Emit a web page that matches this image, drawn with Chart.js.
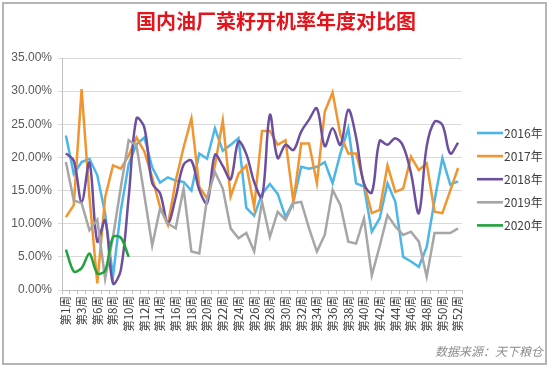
<!DOCTYPE html>
<html><head><meta charset="utf-8">
<script src="https://cdn.jsdelivr.net/npm/chart.js@4.4.1/dist/chart.umd.min.js"></script>
<style>
html,body{margin:0;padding:0;background:#fff;}
#wrap{position:relative;width:550px;height:368px;overflow:hidden;}
#frame{position:absolute;left:2px;top:2px;width:541px;height:359px;border:2px solid #b4b4b4;pointer-events:none;}
canvas{position:absolute;left:0;top:0;}
</style></head><body>
<div id="wrap"><canvas id="c" width="550" height="368"></canvas><div id="frame"></div></div>
<script>
const TITLE = '国内油厂菜籽开机率年度对比图';
const SOURCE = '数据来源：天下粮仓';
const WEEKS = ['第1周','第2周','第3周','第4周','第6周','第7周','第8周','第9周','第10周','第11周','第12周','第13周','第14周','第15周','第16周','第17周','第18周','第19周','第20周','第21周','第22周','第23周','第24周','第25周','第26周','第27周','第28周','第29周','第30周','第31周','第32周','第33周','第34周','第35周','第36周','第37周','第38周','第39周','第40周','第41周','第42周','第43周','第44周','第45周','第46周','第47周','第48周','第49周','第50周','第51周','第52周'];
const SERIES_NAMES = ['2016年','2017年','2018年','2019年','2020年'];
const Y2016 = [23.3,17.5,19.3,19.8,17.3,11.5,2.0,12.0,19.0,22.0,23.0,18.5,16.2,17.0,16.5,16.3,15.0,20.6,19.8,24.4,21.0,21.9,22.9,12.4,11.2,14.5,16.0,14.5,11.0,13.3,18.6,18.3,18.6,19.3,16.1,20.6,24.4,16.1,15.6,8.8,10.8,16.1,13.3,5.0,4.3,3.5,6.5,13.5,19.9,15.9,16.4];
const Y2017 = [11.0,12.8,30.3,14.0,1.0,14.0,18.8,18.3,20.3,23.0,20.9,17.0,12.5,9.8,16.5,21.5,25.9,15.6,13.8,18.8,25.6,14.1,17.5,18.8,12.5,24.0,24.0,21.9,22.6,13.3,22.1,22.1,16.1,26.9,29.8,23.4,20.6,20.6,16.1,11.6,12.1,18.8,14.8,15.3,20.1,18.1,19.1,11.8,11.6,15.0,18.4];
const Y2018 = [20.6,19.5,13.3,19.2,7.3,10.5,1.0,3.0,14.0,25.9,24.5,16.1,14.6,10.1,14.0,18.9,19.5,15.1,13.1,20.4,18.7,16.7,22.4,20.5,16.3,14.0,26.4,19.9,21.9,21.1,23.9,25.7,27.4,21.7,24.4,21.9,27.2,23.0,16.0,14.7,22.5,21.9,22.9,21.7,17.6,11.6,21.7,25.4,24.9,20.6,22.2];
const Y2019 = [19.3,13.5,13.1,9.0,10.6,1.7,8.0,15.5,22.6,21.8,14.3,6.7,12.3,10.0,9.3,15.3,5.8,5.5,13.8,17.8,15.3,9.3,7.8,8.6,5.8,13.3,8.0,11.8,10.6,13.1,13.3,9.3,5.8,8.3,15.1,12.8,7.3,7.0,10.8,2.2,6.6,11.3,9.6,8.3,8.8,7.3,2.0,8.6,8.6,8.6,9.3];
const Y2020 = [6.1,2.8,3.3,5.5,2.5,2.9,8.0,7.9,5.0];
const COLORS = ['#4db6e8','#f0952f','#6d4f9f','#a6a6a6','#1fa33a'];

const seriesData = [Y2016,Y2017,Y2018,Y2019,Y2020];
const tensions = [0,0,0.35,0,0.3];

const overlay = {
  id:'overlay',
  afterDraw(chart){
    const ctx = chart.ctx;
    ctx.save();
    ctx.font = 'bold 20px "Noto Sans CJK SC", sans-serif';
    ctx.fillStyle = '#e3141c';
    ctx.textAlign = 'center'; ctx.textBaseline = 'middle';
    ctx.fillText(TITLE, 276, 21);
    chart.data.datasets.forEach((ds,i)=>{
      const y = 133 + i*23.1;
      ctx.strokeStyle = ds.borderColor; ctx.lineWidth = 2.6;
      ctx.beginPath(); ctx.moveTo(477,y); ctx.lineTo(503,y); ctx.stroke();
      ctx.fillStyle = '#404040';
      ctx.font = '12px "Noto Sans CJK SC", sans-serif';
      ctx.textBaseline = 'middle'; ctx.textAlign = 'left';
      ctx.fillText(ds.label, 504, y);
    });
    ctx.font = 'italic 12px "Noto Sans CJK SC", sans-serif';
    ctx.fillStyle = '#8c8c8c';
    ctx.textAlign = 'right'; ctx.textBaseline = 'middle';
    ctx.fillText(SOURCE, 543, 351);
    ctx.restore();
  }
};

new Chart(document.getElementById('c'), {
  type:'line',
  data:{
    labels: WEEKS,
    datasets: seriesData.map((d,i)=>({
      label: SERIES_NAMES[i], data: d,
      borderColor: COLORS[i], backgroundColor: COLORS[i],
      borderWidth: 2.5, pointRadius: 0, tension: tensions[i],
      fill: false, order: 5 - i
    }))
  },
  options:{
    responsive:false, animation:false,
    layout:{padding:{left:8,right:88,top:58,bottom:0}},
    plugins:{
      legend:{display:false}, tooltip:{enabled:false}, title:{display:false}
    },
    scales:{
      x:{
        offset:true,
        grid:{offset:true,drawOnChartArea:false,drawTicks:true,tickLength:4,color:'#bfbfbf'},
        border:{color:'#bfbfbf'},
        ticks:{autoSkip:false,maxRotation:90,minRotation:90,padding:2,
          font:{family:'"Noto Sans CJK SC", sans-serif',size:11.5},color:'#404040',
          callback:(v,i)=> i%2===0 ? WEEKS[i] : ''},
        afterFit(s){ s.height = 78; }
      },
      y:{
        min:0,max:35,
        ticks:{stepSize:5,callback:v=>Number(v).toFixed(2)+'%',
          font:{family:'"Liberation Sans", Arial, sans-serif',size:12},color:'#595959',padding:6},
        grid:{color:'#d9d9d9',tickLength:4},
        border:{color:'#bfbfbf'},
        afterFit(s){ s.width = 54; }
      }
    }
  },
  plugins:[overlay]
});
</script>
</body></html>
